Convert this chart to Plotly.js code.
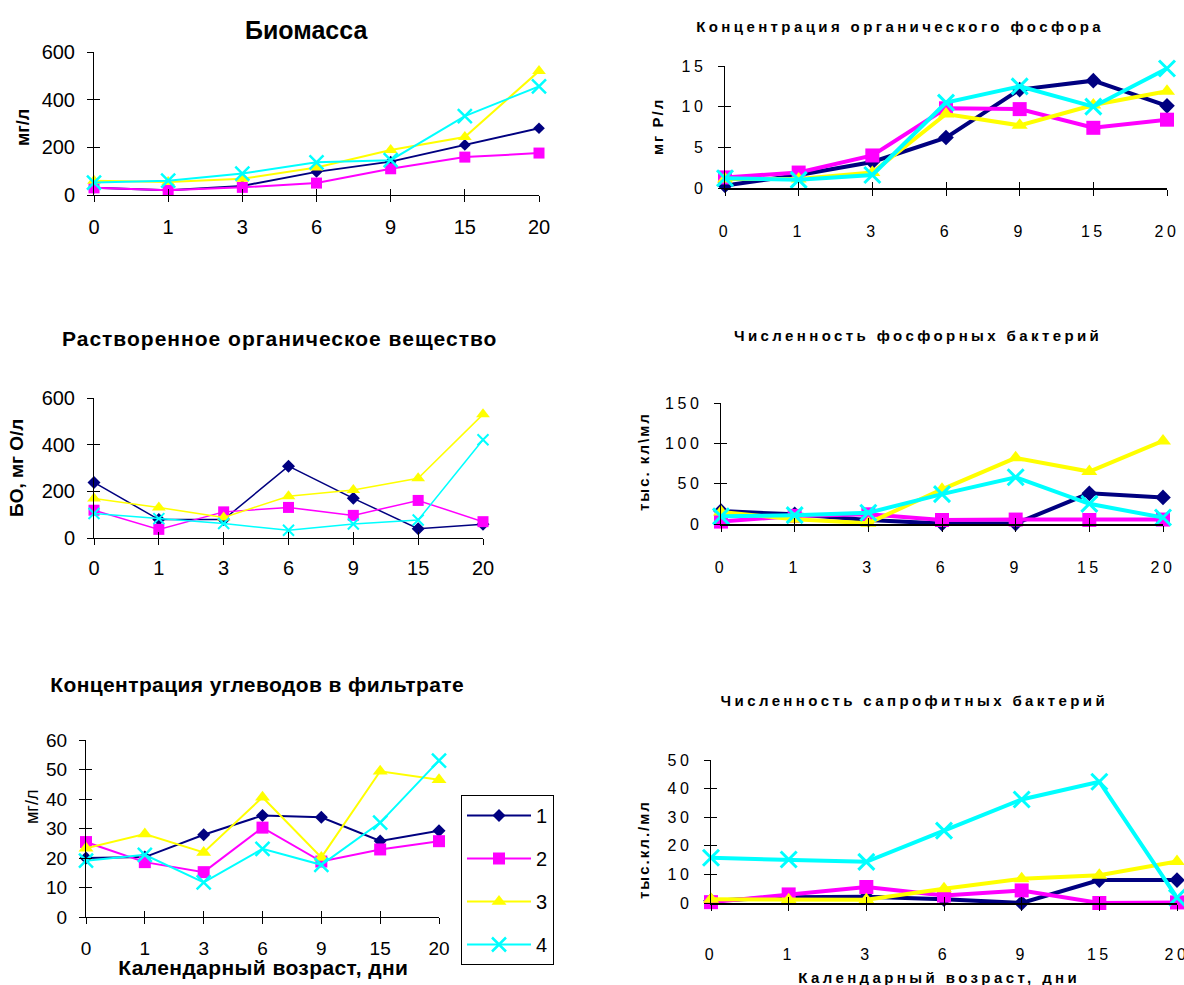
<!DOCTYPE html>
<html><head><meta charset="utf-8">
<script src="https://cdn.plot.ly/plotly-3.0.1.min.js"></script>
<style>
html,body{margin:0;padding:0;background:#fff;}
.pan{position:absolute;left:0;top:0;width:1184px;height:985px;}
#p2 .xtick text,#p2 .ytick text,#p4 .xtick text,#p4 .ytick text,#p6 .xtick text,#p6 .ytick text{letter-spacing:3.5px;}
#p2 .annotation[data-index="0"] .annotation-text,
#p4 .annotation[data-index="0"] .annotation-text,
#p6 .annotation[data-index="0"] .annotation-text,
#p6 .annotation[data-index="2"] .annotation-text{letter-spacing:3.4px;}
#p2 .annotation[data-index="1"] .annotation-text,
#p4 .annotation[data-index="1"] .annotation-text,
#p6 .annotation[data-index="1"] .annotation-text{letter-spacing:2px;}
#p3 .annotation[data-index="0"] .annotation-text{letter-spacing:1px;}
#p5 .annotation[data-index="0"] .annotation-text,
#p5 .annotation[data-index="2"] .annotation-text{letter-spacing:0.4px;}
</style></head><body>
<div id="p1" class="pan"></div>
<div id="p2" class="pan"></div>
<div id="p3" class="pan"></div>
<div id="p4" class="pan"></div>
<div id="p5" class="pan"></div>
<div id="p6" class="pan"></div>
<script>
// categories (calendar age, days)
const days = ['0','1','3','6','9','15','20'];
const seriesNames = ['1','2','3','4'];

// Биомасса, мг/л
const biomass1 = [30, 20, 38, 97, 140, 210, 280];
const biomass2 = [30, 20, 32, 50, 110, 159, 176];
const biomass3 = [60, 55, 68, 115, 189, 243, 520];
const biomass4 = [52, 60, 90, 137, 146, 331, 456];

// Концентрация органического фосфора, мг Р/л
const orgP1 = [0.3, 1.6, 3.2, 6.2, 12.1, 13.2, 10.1];
const orgP2 = [1.3, 1.9, 4.0, 9.8, 9.7, 7.4, 8.4];
const orgP3 = [1.1, 1.1, 1.9, 9.1, 7.7, 10.2, 11.9];
const orgP4 = [1.2, 1.0, 1.6, 10.5, 12.5, 10.0, 14.7];

// Растворенное органическое вещество, БО мг О/л
const dom1 = [238, 79, 79, 308, 170, 40, 59];
const dom2 = [119, 37, 112, 131, 97, 161, 70];
const dom3 = [169, 131, 88, 179, 206, 256, 530];
const dom4 = [105, 83, 62, 33, 60, 77, 421];

// Численность фосфорных бактерий, тыс. кл/мл
const phos1 = [16, 12, 5, 0.5, 0.5, 38, 33];
const phos2 = [3, 10, 12, 5, 5.5, 5, 5.5];
const phos3 = [15, 6, 1, 43, 82, 65, 103];
const phos4 = [9.5, 11, 14, 37, 58, 25, 8];

// Концентрация углеводов в фильтрате, мг/л
const carb1 = [20, 20.3, 27.9, 34.4, 33.8, 25.8, 29.2];
const carb2 = [25.4, 18.6, 15.2, 30.3, 18.8, 22.9, 25.7];
const carb3 = [23.3, 28.1, 21.9, 40.6, 20.2, 49.4, 46.5];
const carb4 = [19.1, 21.1, 11.7, 23.1, 17.7, 32, 53];

// Численность сапрофитных бактерий, тыс. кл/мл
const sapr1 = [0.8, 2, 2.2, 1.3, 0, 8, 8];
const sapr2 = [0.3, 3, 5.6, 2.6, 4.4, 0, 0.2];
const sapr3 = [1.3, 1.1, 1.1, 5, 8.5, 9.7, 14.5];
const sapr4 = [15.8, 15.2, 14.4, 25.3, 36.2, 42.4, 1.9];

const colors = ['#000080', '#FF00FF', '#FFFF00', '#00FFFF'];
const symbols = ['diamond', 'square', 'triangle-up', 'x-thin'];

const W = 1184, H = 985;
const ARIAL = 'Liberation Sans, Arial, sans-serif';

function ann(text, x, y, size, bold, angle) {
  return {
    text: bold ? '<b>' + text + '</b>' : text,
    xref: 'paper', yref: 'paper', x: x / W, y: 1 - y / H,
    xanchor: 'center', yanchor: 'middle', showarrow: false,
    textangle: angle || 0,
    font: {family: ARIAL, size: size, color: '#000'}
  };
}

function panel(id, data, opt) {
  const traces = data.map((vals, i) => ({
    type: 'scatter', mode: 'lines+markers', name: seriesNames[i],
    x: days, y: vals, cliponaxis: false,
    line: {color: colors[i], width: opt.lw},
    marker: {
      symbol: symbols[i], color: colors[i],
      size: opt.ms[i],
      line: i === 3 ? {color: colors[i], width: opt.xw} : {width: 0}
    },
    legendgroup: 'g' + i
  }));
  // empty helper trace: only carries the inner halves of the crossing tick marks
  traces.push({type: 'scatter', x: [], y: [], xaxis: 'x2', yaxis: 'y2',
               showlegend: false, hoverinfo: 'skip'});
  const ax = {
    showline: true, linecolor: '#000', linewidth: opt.alw,
    ticks: 'outside', ticklen: 6, tickcolor: '#000', tickwidth: 1,
    showgrid: false, zeroline: false,
    tickfont: {family: ARIAL, size: opt.tfs, color: '#000'}
  };
  const layout = {
    width: W, height: H, margin: {l: 0, r: 0, t: 0, b: 0},
    paper_bgcolor: 'rgba(0,0,0,0)', plot_bgcolor: 'rgba(0,0,0,0)',
    showlegend: !!opt.legend,
    xaxis: Object.assign({}, ax, {
      type: 'category', categoryarray: days, range: [0, 6],
      domain: [opt.l / W, opt.r / W], anchor: 'y',
      ticklabelstandoff: opt.xsd
    }),
    yaxis: Object.assign({}, ax, {
      range: [0, opt.ymax], dtick: opt.dtick,
      domain: [1 - opt.b / H, 1 - opt.t / H], anchor: 'x',
      ticklabelstandoff: opt.ysd
    }),
    xaxis2: {overlaying: 'x', anchor: 'y', range: [0, 6], dtick: 1,
             ticks: 'inside', ticklen: 6, tickcolor: '#000', tickwidth: 1,
             showticklabels: false, showline: false, showgrid: false, zeroline: false},
    yaxis2: {overlaying: 'y', anchor: 'x', side: 'left', range: [0, opt.ymax], dtick: opt.dtick,
             ticks: 'inside', ticklen: 6, tickcolor: '#000', tickwidth: 1,
             showticklabels: false, showline: false, showgrid: false, zeroline: false},
    annotations: opt.ann
  };
  if (opt.legend) layout.legend = opt.legend;
  Plotly.newPlot(id, traces, layout, {staticPlot: true, displayModeBar: false});
}

panel('p1', [biomass1, biomass2, biomass3, biomass4], {
  l: 94, r: 539, t: 52, b: 195, ymax: 600, dtick: 200, lw: 2, alw: 1,
  ms: [9, 11, 12, 14], xw: 2.5, tfs: 20, xsd: 8, ysd: 8,
  ann: [ann('Биомасса', 306, 30, 25, true),
        ann('мг/л', 23, 128, 18, true, -90)]
});

panel('p2', [orgP1, orgP2, orgP3, orgP4], {
  l: 725, r: 1167, t: 66, b: 188, ymax: 15, dtick: 5, lw: 4, alw: 1.5,
  ms: [12, 14, 14, 16], xw: 3, tfs: 16, xsd: 22, ysd: 8,
  ann: [ann('Концентрация органического фосфора', 900, 27, 15, true),
        ann('мг Р/л', 658, 127, 15, true, -90)]
});

panel('p3', [dom1, dom2, dom3, dom4], {
  l: 94, r: 483, t: 398, b: 538, ymax: 600, dtick: 200, lw: 1.5, alw: 1,
  ms: [10, 11, 12, 11], xw: 2, tfs: 20, xsd: 6, ysd: 8,
  ann: [ann('Растворенное органическое вещество', 279, 338, 21, true),
        ann('БО, мг О/л', 17, 468, 19, true, -90)]
});

panel('p4', [phos1, phos2, phos3, phos4], {
  l: 721, r: 1163, t: 403, b: 524, ymax: 150, dtick: 50, lw: 4, alw: 1.5,
  ms: [12, 14, 14, 16], xw: 3, tfs: 16, xsd: 22, ysd: 8,
  ann: [ann('Численность фосфорных бактерий', 918, 335, 15, true),
        ann('тыс. кл\\мл', 643, 462, 15, true, -90)]
});

panel('p5', [carb1, carb2, carb3, carb4], {
  l: 86, r: 439, t: 740, b: 917, ymax: 60, dtick: 10, lw: 2, alw: 1,
  ms: [10, 12, 13, 14], xw: 2.5, tfs: 19, xsd: 8, ysd: 8,
  ann: [ann('Концентрация углеводов в фильтрате', 257, 684, 21, true),
        ann('мг/л', 32, 807, 18, false, -90),
        ann('Календарный возраст, дни', 263, 967, 21, true)],
  legend: {
    x: 461 / W, y: 1 - 795 / H, xanchor: 'left', yanchor: 'top',
    bgcolor: '#fff', bordercolor: '#000', borderwidth: 1,
    font: {family: ARIAL, size: 20, color: '#000'},
    traceorder: 'grouped', tracegroupgap: 14, itemwidth: 64
  }
});

panel('p6', [sapr1, sapr2, sapr3, sapr4], {
  l: 711, r: 1177, t: 760, b: 903, ymax: 50, dtick: 10, lw: 4, alw: 1.5,
  ms: [12, 14, 14, 16], xw: 3, tfs: 16, xsd: 30, ysd: 8,
  ann: [ann('Численность сапрофитных бактерий', 914, 700, 15, true),
        ann('тыс.кл./мл', 643, 850, 15, true, -90),
        ann('Календарный возраст, дни', 939, 977, 15, true)]
});
</script>
</body></html>
